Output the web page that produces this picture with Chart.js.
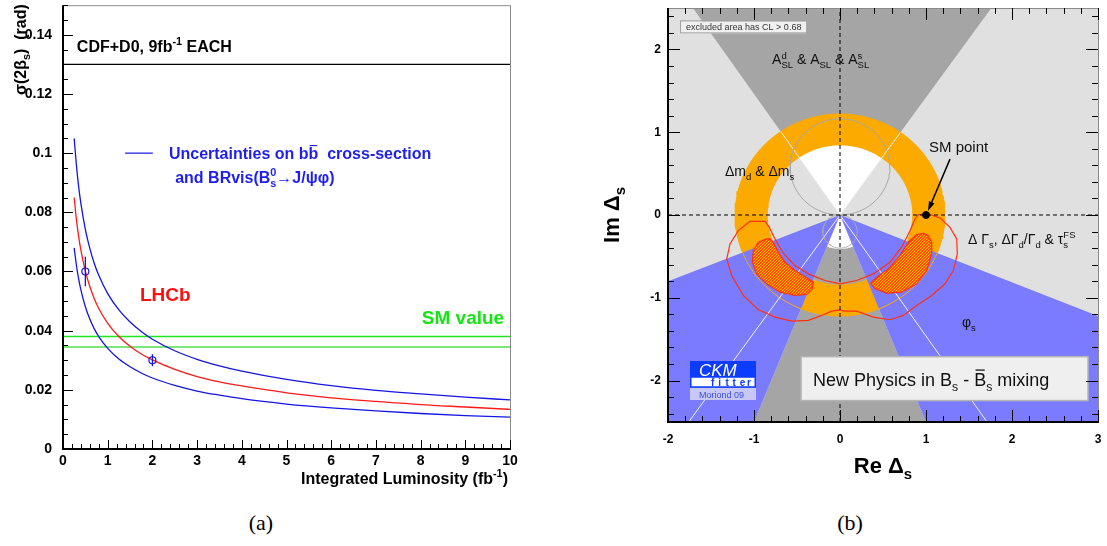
<!DOCTYPE html>
<html>
<head>
<meta charset="utf-8">
<script src="https://cdn.jsdelivr.net/npm/chart.js@4.4.1/dist/chart.umd.min.js"></script>
<style>
  html, body { margin: 0; padding: 0; background: #fff; }
  body { width: 1107px; height: 546px; position: relative; overflow: hidden; }
  canvas { position: absolute; top: 0; }
  #lumiChart { left: 0; }
  #mixChart { left: 560px; }
  .caption { position: absolute; top: 510px; width: 60px; text-align: center;
             font: 22px "Liberation Serif", "DejaVu Serif", serif; line-height: 26px; }
</style>
</head>
<body>
<canvas id="lumiChart" width="530" height="500"></canvas>
<canvas id="mixChart" width="547" height="500"></canvas>
<div class="caption" style="left:231px">(a)</div>
<div class="caption" style="left:820px">(b)</div>
<script>
// ===============================
// PANEL (a) DATA : sigma(2 beta_s) vs luminosity
// ===============================
const lumi      = [0.25, 0.3, 0.35, 0.4, 0.5, 0.6, 0.7, 0.8, 1.0, 1.25, 1.5, 1.75, 2, 2.5, 3, 3.5, 4, 5, 6, 7, 8, 9, 10];
const sigmaHigh = [0.1050, 0.0959, 0.0887, 0.0830, 0.0742, 0.0678, 0.0627, 0.0587, 0.0525, 0.0470, 0.0429, 0.0397, 0.0371, 0.0332, 0.0303, 0.0281, 0.0263, 0.0235, 0.0214, 0.0198, 0.0186, 0.0175, 0.0166];
const sigmaLHCb = [0.0850, 0.0776, 0.0718, 0.0672, 0.0601, 0.0549, 0.0508, 0.0475, 0.0425, 0.0380, 0.0347, 0.0321, 0.0301, 0.0269, 0.0245, 0.0227, 0.0213, 0.0190, 0.0173, 0.0161, 0.0150, 0.0142, 0.0134];
const sigmaLow  = [0.0680, 0.0621, 0.0575, 0.0538, 0.0481, 0.0439, 0.0406, 0.0380, 0.0340, 0.0304, 0.0278, 0.0257, 0.0240, 0.0215, 0.0196, 0.0182, 0.0170, 0.0152, 0.0139, 0.0129, 0.0120, 0.0113, 0.0108];
const lhcbX   = [0.5, 2];
const lhcbY   = [0.06, 0.03];
const lhcbErr = [0.005, 0.002];
const cdfD0Sigma = 0.13;
const smSigma    = [0.038, 0.0345];
const lumiRange  = [0, 10];
const sigmaRange = [0, 0.15];
const lumiTicks  = [0, 1, 2, 3, 4, 5, 6, 7, 8, 9, 10];
const sigmaTicks = [0, 0.02, 0.04, 0.06, 0.08, 0.1, 0.12, 0.14];

// ===============================
// PANEL (b) DATA : New Physics in Bs mixing
// ===============================
const reRange = [-2, 3];
const imRange = [-2.5, 2.5];
const reTicks = [-2, -1, 0, 1, 2, 3];
const imTicks = [-2, -1, 0, 1, 2];
const aslUpper = [[-1.71, 2.5], [0, 0], [1.76, 2.5]];   // A_SL wedge, upper
const aslLower = [[-1, -2.5], [0, 0], [1, -2.5]];       // A_SL wedge, lower
const aslHole  = [1.0, 0.41];                            // empty radius: upper, lower
const phiEdges = [[-2, -0.80], [0, 0], [3, -1.22]];     // phi_s band edge
const dmRadius = [0.84, 1.22];                           // dm_d & dm_s ring
const greyCircles = [[0, 0.58, 0.58], [0, -0.2, 0.2]];   // cx, cy, r
const smPoint = [1, 0];
const combinedContour = [
  [-1.047, -0.076], [-0.872, -0.076], [-0.826, -0.141], [-0.756, -0.289], [-0.659, -0.462],
  [-0.523, -0.611], [-0.368, -0.711], [-0.174, -0.791], [0, -0.831], [0.194, -0.791],
  [0.388, -0.711], [0.581, -0.570], [0.717, -0.389], [0.814, -0.189], [0.872, -0.048],
  [0.911, 0.004], [1.027, 0.012], [1.163, -0.036], [1.279, -0.149], [1.357, -0.289],
  [1.364, -0.470], [1.318, -0.671], [1.221, -0.831], [1.066, -0.972], [0.891, -1.093],
  [0.736, -1.213], [0.581, -1.265], [0.388, -1.233], [0.194, -1.161], [0.039, -1.161],
  [0, -1.145], [-0.097, -1.161], [-0.213, -1.213], [-0.368, -1.273], [-0.562, -1.281],
  [-0.756, -1.233], [-0.950, -1.145], [-1.124, -0.972], [-1.259, -0.731], [-1.317, -0.530],
  [-1.279, -0.349], [-1.182, -0.189]
];
const hatchLeft = [
  [-0.853, -0.289], [-0.950, -0.329], [-1.008, -0.430], [-1.019, -0.570], [-0.969, -0.711],
  [-0.853, -0.831], [-0.698, -0.932], [-0.523, -0.972], [-0.388, -0.960], [-0.322, -0.892],
  [-0.310, -0.811], [-0.388, -0.759], [-0.523, -0.671], [-0.640, -0.570], [-0.717, -0.450],
  [-0.776, -0.329], [-0.814, -0.289]
];
const hatchRight = [
  [0.969, -0.221], [0.891, -0.237], [0.795, -0.329], [0.698, -0.490], [0.562, -0.651],
  [0.426, -0.751], [0.357, -0.823], [0.407, -0.892], [0.543, -0.944], [0.717, -0.932],
  [0.891, -0.831], [1.008, -0.671], [1.066, -0.470], [1.066, -0.329], [1.027, -0.249]
];

// label anchors (data coordinates)
const lumiLabels = {
  cdf: [0.31, 0.1343], legKey: [1.39, 2.01, 0.1], leg1: [2.37, 0.0979], leg2: [2.51, 0.0900],
  lhcb: [1.72, 0.0499], sm: [9.87, 0.0421]
};
const mixLabels = {
  excl: [-1.79, 2.23], asl: [-0.79, 1.819], dm: [-1.337, 0.473], sm: [1.035, 0.759],
  arrow: [[1.279, 0.675], [1.023, 0.048]], dg: [1.488, -0.349], phi: [1.419, -1.349],
  npBox: [[-0.453, -1.711], [2.884, -2.241]], np: [-0.314, -2.06], logo: [-1.744, -1.767]
};

const FONT = '"Liberation Sans", Arial, Helvetica, sans-serif';
Chart.defaults.font.family = FONT;
Chart.defaults.color = '#000';

// ===============================
// helpers
// ===============================
const pts = arr => arr.map(([x, y]) => ({ x, y }));
const zipXY = (xs, ys) => xs.map((x, i) => ({ x, y: ys[i] }));
const closed = arr => [...arr, arr[0]];
const ang = ([x, y]) => Math.atan2(y, x);
function arcPts(cx, cy, r, a0, a1, n) {
  const out = [];
  for (let i = 0; i <= n; i++) {
    const a = a0 + (a1 - a0) * i / n;
    out.push([cx + r * Math.cos(a), cy + r * Math.sin(a)]);
  }
  return out;
}
function scaleTo(p, r) {
  const l = Math.hypot(p[0], p[1]);
  return [p[0] * r / l, p[1] * r / l];
}

// text with _{sub}, ^{sup} and ~{overbar}
function parseRich(str) {
  const out = [];
  let buf = '', i = 0;
  while (i < str.length) {
    const c = str[i];
    if ((c === '_' || c === '^' || c === '~') && str[i + 1] === '{') {
      if (buf) { out.push({ t: buf, k: '' }); buf = ''; }
      const j = str.indexOf('}', i);
      out.push({ t: str.slice(i + 2, j), k: c });
      i = j + 1;
    } else { buf += c; i++; }
  }
  if (buf) out.push({ t: buf, k: '' });
  return out;
}
function drawRich(ctx, str, x, y, o) {
  const size = o.size, weight = o.weight || 'normal';
  const parts = parseRich(str);
  const items = [];
  let cx = 0;
  parts.forEach((p, n) => {
    const small = p.k === '_' || p.k === '^';
    const fs = small ? size * 0.68 : size;
    ctx.font = `${weight} ${fs}px ${FONT}`;
    const w = ctx.measureText(p.t).width;
    let px = cx;
    if (p.k === '_' && n > 0 && parts[n - 1].k === '^') px = items[n - 1].x;
    const dy = p.k === '_' ? size * 0.28 : p.k === '^' ? -size * 0.42 : 0;
    items.push({ t: p.t, x: px, dy, fs, w, bar: p.k === '~' });
    cx = Math.max(cx, px + w);
  });
  const shift = o.align === 'right' ? -cx : o.align === 'center' ? -cx / 2 : 0;
  ctx.save();
  ctx.translate(x, y);
  if (o.rotate) ctx.rotate(o.rotate);
  ctx.fillStyle = o.color || '#000';
  ctx.strokeStyle = o.color || '#000';
  ctx.textAlign = 'left';
  ctx.textBaseline = 'alphabetic';
  items.forEach(it => {
    ctx.font = `${weight} ${it.fs}px ${FONT}`;
    ctx.fillText(it.t, shift + it.x, it.dy);
    if (it.bar) {
      ctx.lineWidth = Math.max(1, size / 14);
      const by = -size * 0.86;
      ctx.beginPath();
      ctx.moveTo(shift + it.x + it.w * 0.12, by);
      ctx.lineTo(shift + it.x + it.w * 0.88, by);
      ctx.stroke();
    }
  });
  ctx.restore();
  return cx;
}

function drawTicks(ctx, scale, from, to, step, major, side, majLen, minLen) {
  const a = scale.chart.chartArea;
  const n = Math.round((to - from) / step);
  ctx.beginPath();
  for (let i = 0; i <= n; i++) {
    const v = from + i * step;
    const isMajor = Math.abs(v / major - Math.round(v / major)) < 1e-6;
    const len = isMajor ? majLen : minLen;
    const p = Math.round(scale.getPixelForValue(v)) + 0.5;
    if (side === 'bottom') { ctx.moveTo(p, a.bottom); ctx.lineTo(p, a.bottom - len); }
    if (side === 'top')    { ctx.moveTo(p, a.top);    ctx.lineTo(p, a.top + len); }
    if (side === 'left')   { ctx.moveTo(a.left, p);   ctx.lineTo(a.left + len, p); }
    if (side === 'right')  { ctx.moveTo(a.right, p);  ctx.lineTo(a.right - len, p); }
  }
  ctx.stroke();
}

function drawFrame(ctx, a, darkW, lightColor) {
  ctx.lineWidth = 1;
  ctx.strokeStyle = lightColor;
  ctx.beginPath();
  ctx.moveTo(a.left, a.top + 0.5); ctx.lineTo(a.right + 0.5, a.top + 0.5);
  ctx.lineTo(a.right + 0.5, a.bottom);
  ctx.stroke();
  ctx.lineWidth = darkW;
  ctx.strokeStyle = '#000';
  ctx.beginPath();
  ctx.moveTo(a.left, a.top); ctx.lineTo(a.left, a.bottom); ctx.lineTo(a.right + 1, a.bottom);
  ctx.stroke();
}

function fixedAxis(size) {
  return s => {
    if (s.isHorizontal()) s.height = size; else s.width = size;
    s.paddingLeft = s.paddingRight = s.paddingTop = s.paddingBottom = 0;
  };
}
const useTicks = list => s => { s.ticks = list.map(v => ({ value: v })); };
const noGrid = { display: false, drawTicks: false };

// ===============================
// PANEL (a)
// ===============================
const BLUE = '#1414e6';
const lumiDecor = {
  id: 'lumiDecor',
  afterDatasetsDraw(chart) {
    const { ctx, chartArea: a, scales: { x, y } } = chart;
    const px = v => x.getPixelForValue(v), py = v => y.getPixelForValue(v);
    ctx.save();
    drawFrame(ctx, a, 2, '#8a8a8a');
    ctx.strokeStyle = '#000'; ctx.lineWidth = 1;
    drawTicks(ctx, x, lumiRange[0], lumiRange[1], 0.2, 1, 'bottom', 9, 5);
    drawTicks(ctx, y, sigmaRange[0], sigmaRange[1], 0.005, 0.02, 'left', 10, 5);

    // texts
    drawRich(ctx, 'CDF+D0, 9fb^{-1} EACH', px(lumiLabels.cdf[0]), py(lumiLabels.cdf[1]), { size: 16, weight: 'bold' });
    ctx.strokeStyle = BLUE; ctx.lineWidth = 1.2;
    ctx.beginPath();
    ctx.moveTo(px(lumiLabels.legKey[0]), py(lumiLabels.legKey[2]));
    ctx.lineTo(px(lumiLabels.legKey[1]), py(lumiLabels.legKey[2]));
    ctx.stroke();
    drawRich(ctx, 'Uncertainties on b~{b}  cross-section', px(lumiLabels.leg1[0]), py(lumiLabels.leg1[1]), { size: 16, weight: 'bold', color: '#1e1ef0' });
    drawRich(ctx, 'and BRvis(B^{0}_{s}\u2192J/\u03c8\u03c6)', px(lumiLabels.leg2[0]), py(lumiLabels.leg2[1]), { size: 16, weight: 'bold', color: '#1e1ef0' });
    drawRich(ctx, 'LHCb', px(lumiLabels.lhcb[0]), py(lumiLabels.lhcb[1]), { size: 19, weight: 'bold', color: '#ff1010' });
    drawRich(ctx, 'SM value', px(lumiLabels.sm[0]), py(lumiLabels.sm[1]), { size: 19, weight: 'bold', color: '#14e614', align: 'right' });

    // axis titles
    drawRich(ctx, 'Integrated Luminosity (fb^{-1})', a.right - 2, a.bottom + 35, { size: 16, weight: 'bold', align: 'right' });
    drawRich(ctx, '\u03c3(2\u03b2_{s})  (rad)', a.left - 37, a.top - 1, { size: 16, weight: 'bold', align: 'right', rotate: -Math.PI / 2 });
    ctx.restore();
  }
};

const errBars = [];
lhcbX.forEach((x, i) => {
  errBars.push({ x, y: lhcbY[i] - lhcbErr[i] }, { x, y: lhcbY[i] + lhcbErr[i] }, { x, y: null });
});

new Chart(document.getElementById('lumiChart'), {
  type: 'line',
  data: {
    datasets: [
      { data: zipXY(lhcbX, lhcbY), showLine: false, pointRadius: 3.5, pointBorderWidth: 1.2,
        pointBorderColor: BLUE, pointBackgroundColor: 'rgba(0,0,0,0)' },
      { data: errBars, borderColor: BLUE, borderWidth: 1.3, pointRadius: 0, spanGaps: false },
      { data: zipXY(lumi, sigmaHigh), borderColor: BLUE, borderWidth: 1.3, pointRadius: 0, cubicInterpolationMode: 'monotone' },
      { data: zipXY(lumi, sigmaLHCb), borderColor: '#ff1a1a', borderWidth: 1.3, pointRadius: 0, cubicInterpolationMode: 'monotone' },
      { data: zipXY(lumi, sigmaLow), borderColor: BLUE, borderWidth: 1.3, pointRadius: 0, cubicInterpolationMode: 'monotone' },
      { data: zipXY(lumiRange, [smSigma[0], smSigma[0]]), borderColor: '#1ee61e', borderWidth: 1.4, pointRadius: 0 },
      { data: zipXY(lumiRange, [smSigma[1], smSigma[1]]), borderColor: '#7be87b', borderWidth: 2, pointRadius: 0 },
      { data: zipXY(lumiRange, [cdfD0Sigma, cdfD0Sigma]), borderColor: '#000', borderWidth: 1.3, pointRadius: 0 }
    ]
  },
  options: {
    responsive: false, animation: false, events: [], devicePixelRatio: 1,
    layout: { padding: { left: 0, right: 20, top: 3, bottom: 0 } },
    plugins: { legend: { display: false }, tooltip: { enabled: false } },
    scales: {
      x: {
        type: 'linear', min: lumiRange[0], max: lumiRange[1],
        afterBuildTicks: useTicks(lumiTicks), afterFit: fixedAxis(51),
        grid: noGrid, border: { display: false },
        ticks: { font: { size: 14, weight: 'bold' }, color: '#000', padding: 4, maxRotation: 0, autoSkip: false,
                 callback: v => String(v) }
      },
      y: {
        type: 'linear', min: sigmaRange[0], max: sigmaRange[1],
        afterBuildTicks: useTicks(sigmaTicks), afterFit: fixedAxis(63),
        grid: noGrid, border: { display: false },
        ticks: { font: { size: 14, weight: 'bold' }, color: '#000', padding: 11, autoSkip: false,
                 callback: v => String(v) }
      }
    }
  },
  plugins: [lumiDecor]
});

// ===============================
// PANEL (b)
// ===============================
function hatchPattern() {
  const c = document.createElement('canvas');
  c.width = 3; c.height = 3;
  const g = c.getContext('2d');
  g.fillStyle = '#ff4a00'; g.fillRect(0, 0, 3, 3);
  g.fillStyle = '#ffcc00';
  for (let i = 0; i < 3; i++) g.fillRect(i, 2 - i, 1, 1);
  return g.createPattern(c, 'repeat');
}

const area = (points, color) => ({ data: pts(points), fill: 'shape', backgroundColor: color, borderWidth: 0, pointRadius: 0 });
const outline = (points, color, width, dash) => ({ data: pts(points), fill: false, borderColor: color, borderWidth: width, borderDash: dash || [], pointRadius: 0 });

const plotBox = [[reRange[0], imRange[0]], [reRange[1], imRange[0]], [reRange[1], imRange[1]], [reRange[0], imRange[1]]];
const upperHole = [[0, 0], ...arcPts(0, 0, aslHole[0], ang(aslUpper[2]), ang(aslUpper[0]), 40)];
const lowerHole = [[0, 0], ...arcPts(0, 0, aslHole[1], ang(aslLower[0]), ang(aslLower[2]), 30)];
const dmRing = [...arcPts(0, 0, dmRadius[1], 0, 2 * Math.PI, 160), ...arcPts(0, 0, dmRadius[0], 2 * Math.PI, 0, 120)];
const phiLeft = [phiEdges[0], phiEdges[1], aslLower[0], [reRange[0], imRange[0]]];
const phiRight = [phiEdges[1], phiEdges[2], [reRange[1], imRange[0]], aslLower[2]];
const aslLine1 = [scaleTo(aslUpper[0], dmRadius[1]), [0, 0], [-aslUpper[0][0], -aslUpper[0][1]]];
const aslLine2 = [scaleTo(aslUpper[2], dmRadius[1]), [0, 0], [-aslUpper[2][0], -aslUpper[2][1]]];

// bottom -> top
const mixLayers = [
  area(plotBox, '#e0e0e0'),
  area(aslUpper, '#a5a5a5'),
  area(upperHole, '#ffffff'),
  area(aslLower, '#a5a5a5'),
  area(lowerHole, '#ffffff'),
  area(dmRing, '#fcaa00'),
  area(phiLeft, '#7b7bff'),
  area(phiRight, '#7b7bff'),
  outline(arcPts(0, 0, dmRadius[1], 0, 2 * Math.PI, 160), '#fcaa00', 1),
  outline(aslLine1, '#f4f4f4', 1),
  outline(aslLine2, '#f4f4f4', 1),
  ...greyCircles.map(([cx, cy, r]) => outline(arcPts(cx, cy, r, 0, 2 * Math.PI, 100), '#a8a8a8', 1)),
  outline(closed(combinedContour), '#ff3010', 1.2),
  Object.assign(area(closed(hatchLeft), hatchPattern()), { borderColor: '#ff3010', borderWidth: 1.2 }),
  Object.assign(area(closed(hatchRight), hatchPattern()), { borderColor: '#ff3010', borderWidth: 1.2 }),
  outline([[0, imRange[0]], [0, imRange[1]]], '#000', 1, [4, 3]),
  outline([[reRange[0], 0], [reRange[1], 0]], '#000', 1, [4, 3]),
  { data: pts([smPoint]), showLine: false, pointRadius: 3.5, pointBackgroundColor: '#000', pointBorderColor: '#000' }
].map((d, i, all) => Object.assign(d, { order: all.length - i }));

const mixDecor = {
  id: 'mixDecor',
  afterDatasetsDraw(chart) {
    const { ctx, chartArea: a, scales: { x, y } } = chart;
    const px = v => x.getPixelForValue(v), py = v => y.getPixelForValue(v);
    const L = mixLabels;
    ctx.save();

    // excluded-area note
    const exclText = 'excluded area has CL > 0.68';
    ctx.font = `9px ${FONT}`;
    const ew = ctx.measureText(exclText).width;
    const ex = px(L.excl[0]), ey = py(L.excl[1]);
    ctx.fillStyle = '#f0f0f0'; ctx.fillRect(ex - 5, ey - 9, ew + 10, 12);
    ctx.strokeStyle = '#a0a0a0'; ctx.lineWidth = 1; ctx.strokeRect(ex - 5.5, ey - 9.5, ew + 11, 12);
    ctx.fillStyle = '#333'; ctx.fillText(exclText, ex, ey);

    // constraint labels
    drawRich(ctx, 'A^{d}_{SL} & A_{SL} & A^{s}_{SL}', px(L.asl[0]), py(L.asl[1]), { size: 14, color: '#111' });
    drawRich(ctx, '\u0394m_{d} & \u0394m_{s}', px(L.dm[0]), py(L.dm[1]), { size: 14, color: '#111' });
    drawRich(ctx, 'SM point', px(L.sm[0]), py(L.sm[1]), { size: 15, color: '#111' });
    drawRich(ctx, '\u0394 \u0393_{s}, \u0394\u0393_{d}/\u0393_{d} & \u03c4^{FS}_{s}', px(L.dg[0]), py(L.dg[1]), { size: 14, color: '#111' });
    drawRich(ctx, '\u03c6_{s}', px(L.phi[0]), py(L.phi[1]), { size: 14, color: '#111' });

    // arrow to the SM point
    const tx = px(L.arrow[0][0]), ty = py(L.arrow[0][1]);
    const hx = px(L.arrow[1][0]), hy = py(L.arrow[1][1]);
    const ah = Math.atan2(hy - ty, hx - tx);
    ctx.strokeStyle = '#000'; ctx.fillStyle = '#000'; ctx.lineWidth = 1.5;
    ctx.beginPath(); ctx.moveTo(tx, ty); ctx.lineTo(hx - 6 * Math.cos(ah), hy - 6 * Math.sin(ah)); ctx.stroke();
    ctx.beginPath(); ctx.moveTo(hx, hy);
    ctx.lineTo(hx - 10 * Math.cos(ah - 0.3), hy - 10 * Math.sin(ah - 0.3));
    ctx.lineTo(hx - 10 * Math.cos(ah + 0.3), hy - 10 * Math.sin(ah + 0.3));
    ctx.closePath(); ctx.fill();

    // title box
    const bx0 = px(L.npBox[0][0]), by0 = py(L.npBox[0][1]);
    const bx1 = px(L.npBox[1][0]), by1 = py(L.npBox[1][1]);
    ctx.fillStyle = '#efefef'; ctx.fillRect(bx0, by0, bx1 - bx0, by1 - by0);
    ctx.strokeStyle = '#b4b4b4'; ctx.lineWidth = 1.5; ctx.strokeRect(bx0, by0, bx1 - bx0, by1 - by0);
    drawRich(ctx, 'New Physics in B_{s} - ~{B}_{s} mixing', px(L.np[0]), py(L.np[1]), { size: 18, color: '#111' });

    // CKMfitter logo
    const lx = Math.round(px(L.logo[0])), ly = Math.round(py(L.logo[1]));
    ctx.fillStyle = '#0b3cff'; ctx.fillRect(lx, ly, 66, 16);
    ctx.fillStyle = '#ffffff'; ctx.fillRect(lx, ly + 16, 66, 10);
    ctx.strokeStyle = '#0b3cff'; ctx.lineWidth = 1.5; ctx.strokeRect(lx + 0.75, ly + 16, 64.5, 10);
    ctx.fillStyle = '#c8c8f8'; ctx.fillRect(lx, ly + 27, 66, 12);
    ctx.fillStyle = '#ffffff'; ctx.font = `italic 17px ${FONT}`; ctx.fillText('CKM', lx + 9, ly + 14.5);
    ctx.fillStyle = '#0b3cff'; ctx.font = `bold 10px ${FONT}`;
    'fitter'.split('').forEach((ch, i) => ctx.fillText(ch, lx + 21 + i * 7.2, ly + 24.5));
    ctx.fillStyle = '#3a4ee8'; ctx.font = `9px ${FONT}`; ctx.fillText('Moriond 09', lx + 9, ly + 36.5);

    // frame and ticks
    drawFrame(ctx, a, 2, '#8a8a8a');
    ctx.strokeStyle = '#000'; ctx.lineWidth = 1;
    drawTicks(ctx, x, reRange[0], reRange[1], 0.2, 1, 'bottom', 12, 6);
    drawTicks(ctx, x, reRange[0], reRange[1], 0.2, 1, 'top', 12, 6);
    drawTicks(ctx, y, -2.4, 2.4, 0.2, 1, 'left', 12, 6);
    drawTicks(ctx, y, -2.4, 2.4, 0.2, 1, 'right', 12, 6);

    // axis titles
    drawRich(ctx, 'Re \u0394_{s}', (a.left + a.right) / 2, a.bottom + 51, { size: 22, weight: 'bold', align: 'center' });
    drawRich(ctx, 'Im \u0394_{s}', a.left - 49, (a.top + a.bottom) / 2, { size: 22, weight: 'bold', align: 'center', rotate: -Math.PI / 2 });
    ctx.restore();
  }
};

new Chart(document.getElementById('mixChart'), {
  type: 'line',
  data: { datasets: mixLayers },
  options: {
    responsive: false, animation: false, events: [], devicePixelRatio: 1,
    layout: { padding: { left: 0, right: 9, top: 8, bottom: 0 } },
    plugins: { legend: { display: false }, tooltip: { enabled: false } },
    elements: { line: { tension: 0 } },
    scales: {
      x: {
        type: 'linear', min: reRange[0], max: reRange[1],
        afterBuildTicks: useTicks(reTicks), afterFit: fixedAxis(78),
        grid: noGrid, border: { display: false },
        ticks: { font: { size: 12, weight: 'bold' }, color: '#000', padding: 10, maxRotation: 0, autoSkip: false,
                 callback: v => String(v) }
      },
      y: {
        type: 'linear', min: imRange[0], max: imRange[1],
        afterBuildTicks: useTicks(imTicks), afterFit: fixedAxis(108),
        grid: noGrid, border: { display: false },
        ticks: { font: { size: 12, weight: 'bold' }, color: '#000', padding: 7, autoSkip: false,
                 callback: v => String(v) }
      }
    }
  },
  plugins: [mixDecor]
});
</script>
</body>
</html>
